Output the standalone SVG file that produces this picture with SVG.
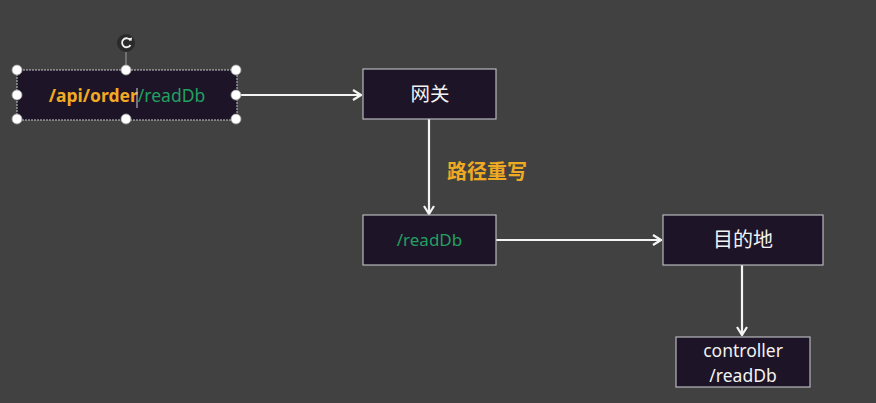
<svg xmlns="http://www.w3.org/2000/svg" width="876" height="403" viewBox="0 0 876 403">
<defs>
<style>
.box{fill:#1d1428;stroke:#b8b8bc;stroke-width:1.2}
.lbl{font-family:"Noto Sans","Noto Sans CJK SC",sans-serif;fill:#f2f2f2;text-anchor:middle}
.conn{stroke:#f4f4f4;stroke-width:2.2;fill:none}
.h{fill:#ffffff;stroke:#9a9a9a;stroke-width:0.8}
</style>
<marker id="arr" viewBox="0 0 10 12" refX="9" refY="6" markerWidth="10" markerHeight="12" markerUnits="userSpaceOnUse" orient="auto">
<path d="M1,1 L9,6 L1,11" fill="none" stroke="#f4f4f4" stroke-width="2.2"/>
</marker>
</defs>
<rect width="876" height="403" fill="#414141"/>
<g id="connectors">
<line class="conn" x1="237" y1="95" x2="361" y2="95" marker-end="url(#arr)"/>
<line class="conn" x1="429" y1="119" x2="429" y2="214" marker-end="url(#arr)"/>
<line class="conn" x1="496" y1="240" x2="661" y2="240" marker-end="url(#arr)"/>
<line class="conn" x1="742" y1="265" x2="742" y2="335" marker-end="url(#arr)"/>
<text x="487" y="179" font-family="'Noto Sans CJK SC',sans-serif" font-size="20" font-weight="bold" fill="#eeaa22" text-anchor="middle">路径重写</text>
</g>
<g id="node-api">
<rect x="17" y="70" width="220" height="50" fill="#1d1428" stroke="#c8c8c8" stroke-width="1" stroke-dasharray="2 1"/>
<text x="127" y="102" font-family="'Noto Sans',sans-serif" font-size="17.5" text-anchor="middle"><tspan font-weight="bold" fill="#f2aa22">/api/order</tspan><tspan fill="#22a060">/readDb</tspan></text>
<line x1="137" y1="88" x2="137" y2="108" stroke="#d0d0d0" stroke-width="1"/>
<line x1="126" y1="51" x2="126" y2="70" stroke="#a0a0a0" stroke-width="1"/>
<circle cx="126" cy="43" r="9" fill="#2a2a2a"/>
<path d="M130.5,40.5 A4.5,4.5 0 1 0 130.5,45" fill="none" stroke="#f0f0f0" stroke-width="1.8"/>
<path d="M128.5,38.5 L131.5,41 L132,37.5 Z" fill="#f0f0f0"/>
<circle class="h" cx="17" cy="70" r="5"/>
<circle class="h" cx="126" cy="70" r="5"/>
<circle class="h" cx="236" cy="70" r="5"/>
<circle class="h" cx="17" cy="95" r="5"/>
<circle class="h" cx="236" cy="95" r="5"/>
<circle class="h" cx="17" cy="119" r="5"/>
<circle class="h" cx="126" cy="119" r="5"/>
<circle class="h" cx="236" cy="119" r="5"/>
</g>
<g id="node-gateway">
<rect class="box" x="363" y="69" width="133" height="50"/>
<text class="lbl" x="430" y="101" font-size="19.5">网关</text>
</g>
<g id="node-readdb">
<rect class="box" x="363" y="215" width="133" height="50"/>
<text x="429.5" y="246" font-family="'Noto Sans',sans-serif" font-size="17" fill="#22a060" text-anchor="middle">/readDb</text>
</g>
<g id="node-dest">
<rect class="box" x="663" y="215" width="160" height="50"/>
<text class="lbl" x="743" y="247" font-size="20">目的地</text>
</g>
<g id="node-controller">
<rect class="box" x="676" y="337" width="134" height="50"/>
<text class="lbl" x="743" y="357" font-size="17.5">controller</text>
<text class="lbl" x="743" y="382" font-size="17.5">/readDb</text>
</g>
</svg>
